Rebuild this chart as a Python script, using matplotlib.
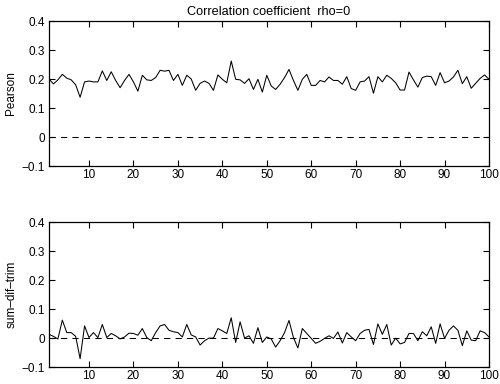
import numpy as np
import matplotlib
matplotlib.use('Agg')
import matplotlib.pyplot as plt

plt.rcParams['font.family'] = ['Liberation Sans', 'DejaVu Sans']
plt.rcParams['font.size'] = 8.5

##############################################
# Data (100 trials each)

trial = np.arange(1, 101)

pearson = [0.200, 0.183, 0.197, 0.216, 0.203, 0.197, 0.180, 0.137, 0.190, 0.193,
           0.190, 0.190, 0.228, 0.195, 0.225, 0.195, 0.170, 0.195, 0.216, 0.190,
           0.158, 0.213, 0.197, 0.195, 0.205, 0.230, 0.227, 0.230, 0.195, 0.216,
           0.178, 0.213, 0.200, 0.161, 0.185, 0.193, 0.185, 0.161, 0.214, 0.199,
           0.187, 0.262, 0.199, 0.197, 0.185, 0.201, 0.164, 0.199, 0.155, 0.213,
           0.176, 0.164, 0.182, 0.205, 0.233, 0.195, 0.161, 0.199, 0.216, 0.178,
           0.178, 0.195, 0.190, 0.207, 0.195, 0.195, 0.182, 0.208, 0.167, 0.161,
           0.190, 0.193, 0.208, 0.151, 0.208, 0.190, 0.213, 0.202, 0.187, 0.162,
           0.162, 0.224, 0.197, 0.172, 0.205, 0.210, 0.208, 0.178, 0.222, 0.187,
           0.193, 0.207, 0.230, 0.184, 0.208, 0.168, 0.185, 0.202, 0.214, 0.199]

sum_dif_trim = [0.013, 0.006, -0.003, 0.062, 0.019, 0.019, 0.006, -0.071, 0.042, 0.002,
                0.019, 0.002, 0.047, 0.002, 0.016, 0.008, -0.003, 0.004, 0.017, 0.016,
                0.010, 0.033, 0.002, -0.009, 0.019, 0.042, 0.047, 0.027, 0.022, 0.019,
                0.004, 0.047, 0.011, 0.004, -0.024, -0.009, 0.000, 0.000, 0.033, 0.025,
                0.016, 0.070, -0.015, 0.056, 0.000, 0.008, -0.018, 0.036, -0.015, 0.004,
                -0.003, -0.031, -0.009, 0.019, 0.061, 0.002, -0.034, 0.033, 0.016, -0.001,
                -0.018, -0.011, -0.001, 0.008, -0.001, 0.021, -0.017, 0.019, 0.004, -0.009,
                0.016, 0.027, 0.030, -0.022, 0.049, 0.013, 0.047, -0.024, 0.000, -0.020,
                -0.015, 0.016, 0.016, -0.009, 0.022, 0.008, 0.039, -0.018, 0.049, -0.001,
                0.027, 0.042, 0.027, -0.026, 0.025, -0.007, -0.009, 0.025, 0.019, 0.004]

ylabels = ['Pearson', 'sum\u2013dif\u2013trim']
yticks  = [-0.1, 0, 0.1, 0.2, 0.3, 0.4]
ytick_labels = ['\u22120.1', '0', '0.1', '0.2', '0.3', '0.4']
xticks  = list(range(10, 101, 10))

##############################################
# Figure

fig = plt.figure(figsize=(5.0, 3.84), dpi=100)
ax1 = fig.add_axes([0.098, 0.5677, 0.88, 0.3776])
ax2 = fig.add_axes([0.098, 0.0440, 0.88, 0.3776])

for ax, series, lab in zip([ax1, ax2], [pearson, sum_dif_trim], ylabels):
    ax.plot(trial, series, color='black', linewidth=0.75)
    ax.axhline(0, color='black', linestyle=(0, (6, 5)), linewidth=0.75)
    ax.set_xlim(1, 100)
    ax.set_ylim(-0.1, 0.4)
    ax.set_xticks(xticks)
    ax.set_yticks(yticks)
    ax.set_yticklabels(ytick_labels)
    ax.tick_params(direction='in', top=True, right=True, length=4, width=0.8, pad=3)
    ax.tick_params(axis='x', pad=2)
    for sp in ax.spines.values():
        sp.set_linewidth(0.9)
    ax.set_ylabel(lab, labelpad=3)

ax1.set_title('Correlation coefficient  rho=0', fontsize=9.2, pad=4)

fig.savefig('out.png', dpi=100)
